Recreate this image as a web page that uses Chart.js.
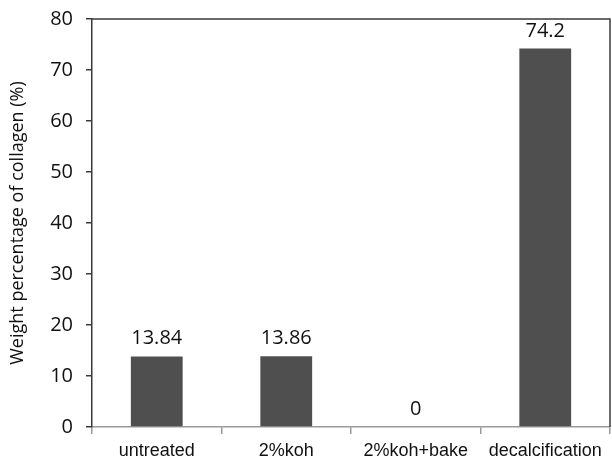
<!DOCTYPE html>
<html>
<head>
<meta charset="utf-8">
<script src="https://cdn.jsdelivr.net/npm/chart.js@4"></script>
<style>
  html, body { margin: 0; padding: 0; background: #fff; }
  #wrap { width: 612px; height: 461px; }
</style>
</head>
<body>
<div id="wrap"><canvas id="chart"></canvas></div>
<script>
const categories = ['untreated', '2%koh', '2%koh+bake', 'decalcification'];
const collagen = [13.84, 13.86, 0, 74.2];
const valueLabels = ['13.84', '13.86', '0', '74.2'];
const yTicks = [0, 10, 20, 30, 40, 50, 60, 70, 80];

const frame = {
  id: 'frame',
  afterDatasetsDraw(chart) {
    const { ctx, chartArea: a } = chart;
    ctx.save();
    ctx.strokeStyle = '#3a3a3a';
    ctx.lineWidth = 1.5;
    ctx.beginPath();
    ctx.moveTo(a.left, a.top);
    ctx.lineTo(a.right, a.top);
    ctx.lineTo(a.right, a.bottom);
    ctx.stroke();
    ctx.restore();
  }
};

const valueLabelsPlugin = {
  id: 'valueLabels',
  afterDatasetsDraw(chart) {
    const { ctx } = chart;
    const meta = chart.getDatasetMeta(0);
    ctx.save();
    ctx.font = "20px 'Open Sans'";
    ctx.fillStyle = '#111';
    ctx.textAlign = 'center';
    ctx.textBaseline = 'alphabetic';
    meta.data.forEach((bar, i) => {
      ctx.fillText(valueLabels[i], bar.x, bar.y - 12);
    });
    ctx.restore();
  }
};

const ctx = document.getElementById('chart').getContext('2d');

const chart = new Chart(ctx, {
  type: 'bar',
  data: {
    labels: categories,
    datasets: [{
      data: collagen,
      backgroundColor: '#4f4f4f',
      borderWidth: 0,
      barPercentage: 0.4,
      categoryPercentage: 1
    }]
  },
  options: {
    responsive: true,
    maintainAspectRatio: false,
    animation: false,
    layout: { padding: { top: 19, right: 2, left: 0, bottom: 0 } },
    plugins: {
      legend: { display: false },
      tooltip: { enabled: false }
    },
    scales: {
      x: {
        grid: { offset: true, drawOnChartArea: false, tickLength: 7, color: '#9a9a9a', lineWidth: 1.5 },
        border: { color: '#9a9a9a', width: 1.5 },
        ticks: { color: '#111', font: { family: "'Liberation Sans'", size: 18 }, padding: 6, maxRotation: 0 },
        afterFit: s => { s.height = 34; s.paddingLeft = 0; s.paddingRight = 0; }
      },
      y: {
        min: 0,
        max: 80,
        afterBuildTicks: s => { s.ticks = yTicks.map(v => ({ value: v })); },
        grid: { drawOnChartArea: false, tickLength: 6, color: '#3a3a3a', lineWidth: 1.5 },
        border: { color: '#3a3a3a', width: 1.5 },
        ticks: { color: '#111', font: { family: "'Open Sans'", size: 20 }, padding: 13 },
        title: {
          display: true,
          text: 'Weight percentage of collagen (%)',
          color: '#111',
          font: { family: "'Open Sans'", size: 18 },
          padding: { top: 7, bottom: 0 }
        },
        afterFit: s => { s.width = 92; s.paddingTop = 0; s.paddingBottom = 0; }
      }
    }
  },
  plugins: [frame, valueLabelsPlugin]
});
</script>
</body>
</html>
